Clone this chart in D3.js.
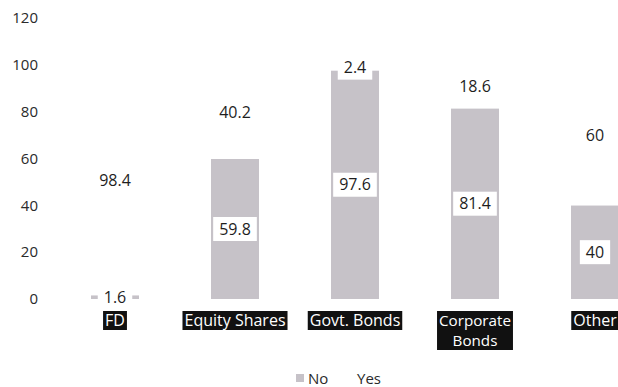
<!DOCTYPE html>
<html>
<head>
<meta charset="utf-8">
<script src="https://cdn.jsdelivr.net/npm/d3@7"></script>
<style>
  html, body { margin: 0; padding: 0; background: #fff; }
  svg { display: block; }
</style>
</head>
<body>
<script>
const categories = ["FD", "Equity Shares", "Govt. Bonds", "Corporate Bonds", "Other"];
const noValues = [1.6, 59.8, 97.6, 81.4, 40];
const yesValues = [98.4, 40.2, 2.4, 18.6, 60];
const yTicks = [0, 20, 40, 60, 80, 100, 120];
const seriesNames = ["No", "Yes"];
const seriesColors = ["#c6c2c8", "#ffffff"];

const W = 618, H = 387;
const FONT = "'Open Sans', sans-serif";

const svg = d3.select("body").append("svg").attr("width", W).attr("height", H);
svg.append("rect").attr("width", W).attr("height", H).attr("fill", "#fff");

const x = d3.scaleBand().domain(categories).range([55, 655]).paddingInner(0.6).paddingOuter(0.3);
const y = d3.scaleLinear().domain([0, 120]).range([299, 18]);

// y tick labels (no axis line)
const yAxis = d3.axisLeft(y).tickValues(yTicks).tickSize(0).tickPadding(0);
const gy = svg.append("g").attr("transform", "translate(38,0)").call(yAxis);
gy.select(".domain").remove();
gy.selectAll("text").attr("font-family", FONT).attr("font-size", 15).attr("fill", "#2a2a2a");

// stacked data
const rows = categories.map((c, i) => ({ cat: c, No: noValues[i], Yes: yesValues[i] }));
const stack = d3.stack().keys(seriesNames)(rows);

const layers = svg.append("g").selectAll("g").data(stack).join("g")
  .attr("fill", (d, i) => seriesColors[i]);
layers.selectAll("rect").data(d => d).join("rect")
  .attr("x", d => x(d.data.cat))
  .attr("width", x.bandwidth())
  .attr("y", d => y(d[1]))
  .attr("height", d => y(d[0]) - y(d[1]));

// value labels with white boxes, at segment centres (Yes first, then No)
const labelG = svg.append("g");
[1, 0].forEach(si => {
  stack[si].forEach((d, i) => {
    const cx = x(d.data.cat) + x.bandwidth() / 2;
    const cy = y((d[0] + d[1]) / 2);
    const g = labelG.append("g");
    const r = g.append("rect").attr("fill", "#fff");
    const t = g.append("text")
      .attr("x", cx).attr("y", cy + 5.7)
      .attr("text-anchor", "middle")
      .attr("font-family", FONT).attr("font-size", 16).attr("fill", "#1e1e1e")
      .text(d.data[seriesNames[si]]);
    const w = t.node().getComputedTextLength();
    r.attr("x", cx - w / 2 - 6).attr("y", cy - 12).attr("width", w + 12).attr("height", 24);
  });
});

// category labels: white text on black boxes
const catG = svg.append("g");
categories.forEach(c => {
  const cx = x(c) + x.bandwidth() / 2;
  const g = catG.append("g");
  const r = g.append("rect").attr("fill", "#111");
  const t = g.append("text").attr("font-family", FONT).attr("font-size", 16)
    .attr("fill", "#fff").attr("text-anchor", "middle");
  // wrap if wider than the category step
  const probe = t.text(c).node().getComputedTextLength();
  let lines = [c];
  let lh = 18.5;
  if (probe > x.step()) {
    const words = c.split(" ");
    lines = [words.slice(0, -1).join(" "), words[words.length - 1]];
    t.attr("font-size", 15.2);
    lh = 20.8;
  }
  t.text(null);
  lines.forEach((ln, k) => {
    t.append("tspan").attr("x", cx).attr("y", 325.5 + k * lh).text(ln);
  });
  let maxW = 0;
  t.selectAll("tspan").each(function () { maxW = Math.max(maxW, this.getComputedTextLength()); });
  r.attr("x", cx - maxW / 2 - 2).attr("y", 311)
    .attr("width", maxW + 4).attr("height", lines.length === 1 ? 19 : 39);
});

// legend
const legend = svg.append("g");
const legX = [296, 345];
seriesNames.forEach((s, i) => {
  legend.append("rect").attr("x", legX[i]).attr("y", 374).attr("width", 8).attr("height", 8)
    .attr("fill", seriesColors[i]);
  legend.append("text").attr("x", legX[i] + 12).attr("y", 383.5)
    .attr("font-family", FONT).attr("font-size", 15).attr("fill", "#2a2a2a").text(s);
});
</script>
</body>
</html>
